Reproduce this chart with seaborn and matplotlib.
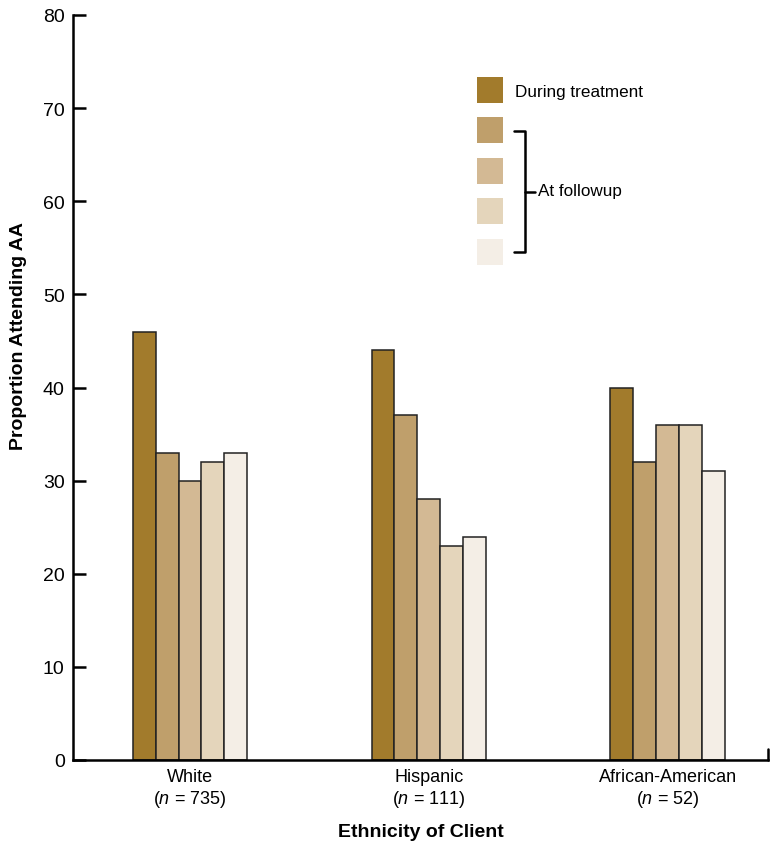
import numpy as np
import pandas as pd
import seaborn as sns
import matplotlib.pyplot as plt
from matplotlib.patches import Rectangle
from matplotlib.lines import Line2D

# data
groups = ["White", "Hispanic", "African-American"]
group_n = [735, 111, 52]
timepoints = ["During treatment", "Followup 1", "Followup 2", "Followup 3", "Followup 4"]
white = [46, 33, 30, 32, 33]
hispanic = [44, 37, 28, 23, 24]
african_american = [40, 32, 36, 36, 31]
colors = ["#A27B2C", "#BF9F6B", "#D3B994", "#E4D5BB", "#F4EEE6"]

values = [white, hispanic, african_american]
rows = []
for g, vals in zip(groups, values):
    for t, v in zip(timepoints, vals):
        rows.append({"group": g, "time": t, "value": v})
df = pd.DataFrame(rows)

sns.set_style("white")
plt.rcParams["font.family"] = ["Liberation Sans", "DejaVu Sans"]
plt.rcParams["mathtext.fontset"] = "custom"
plt.rcParams["mathtext.it"] = "Liberation Sans:italic"
plt.rcParams["mathtext.rm"] = "Liberation Sans"
plt.rcParams["text.color"] = "black"
plt.rcParams["axes.labelcolor"] = "black"
plt.rcParams["xtick.color"] = "black"
plt.rcParams["ytick.color"] = "black"

W, H = 783, 853
fig = plt.figure(figsize=(W / 100, H / 100), dpi=100)
ax = fig.add_axes([73 / W, 1 - 761 / H, (768 - 73) / W, (761 - 16) / H])

sns.barplot(data=df, x="group", y="value", hue="time", hue_order=timepoints,
            palette=colors, saturation=1, width=0.48, edgecolor="#222222",
            linewidth=1.1, legend=False, ax=ax)

ax.set_ylim(0, 80)
ax.set_xlim(-0.49, 2.42)
ax.set_yticks(np.arange(0, 81, 10))
ax.tick_params(axis="y", left=True, direction="in", length=9, width=1.8,
               labelsize=14, pad=6)
ax.tick_params(axis="x", bottom=False, length=0, labelsize=13, pad=6)
ax.set_xticks(range(len(groups)))
ax.set_xticklabels([f"{g}\n($\\it{{n}}$ = {n})" for g, n in zip(groups, group_n)])

for s in ["top", "right"]:
    ax.spines[s].set_visible(False)
for s in ["left", "bottom"]:
    ax.spines[s].set_linewidth(1.8)
    ax.spines[s].set_color("black")

# small upward tick at the right end of the x axis
ax.add_line(Line2D([1, 1], [0, 0.015], transform=ax.transAxes, color="black",
                   lw=1.8, clip_on=False))

ax.set_xlabel("Ethnicity of Client", fontsize=14, fontweight="bold", labelpad=10)
ax.set_ylabel("Proportion Attending AA", fontsize=14, fontweight="bold")
ax.yaxis.set_label_coords(-0.066, 0.57)


def px(x, y):
    return x / W, 1 - y / H


# hand-drawn legend
sq_tops = [78, 118, 159, 199, 240]
for top, c in zip(sq_tops, colors):
    x0, y0 = px(477, top + 26)
    fig.patches.append(Rectangle((x0, y0), 26 / W, 26 / H, transform=fig.transFigure,
                                 facecolor=c, edgecolor="none"))
fig.text(*px(515, 93), "During treatment", fontsize=12.3, va="center", ha="left")

bx = [514, 525, 525, 514]
by = [132, 132, 253, 253]
fig.lines.append(Line2D([x / W for x in bx], [1 - y / H for y in by],
                        transform=fig.transFigure, color="black", lw=1.8))
fig.lines.append(Line2D([525 / W, 535 / W], [1 - 193 / H, 1 - 193 / H],
                        transform=fig.transFigure, color="black", lw=1.8))
fig.text(*px(538, 192), "At followup", fontsize=12.3, va="center", ha="left")

fig.savefig("out.png", dpi=100)
